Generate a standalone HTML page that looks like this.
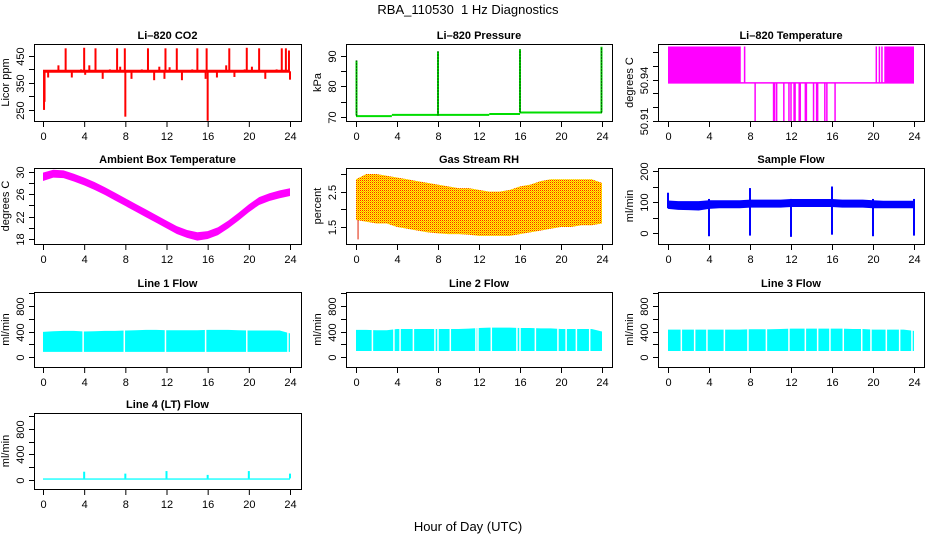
<!DOCTYPE html>
<html><head><meta charset="utf-8"><style>
html,body{margin:0;padding:0;background:#fff;}
svg{display:block;font-family:"Liberation Sans",sans-serif;}
</style></head><body>
<svg id="c" width="936" height="540" viewBox="0 0 936 540">
<defs>
<pattern id="rh" width="2" height="2" patternUnits="userSpaceOnUse">
<rect width="2" height="2" fill="#ffff00"/><rect width="1" height="1" fill="#ff2000"/><rect x="1" y="1" width="1" height="1" fill="#ffa000"/>
</pattern>
</defs>
<text x="468" y="14" text-anchor="middle" font-size="13">RBA_110530&#160; 1 Hz Diagnostics</text>
<text x="468" y="531" text-anchor="middle" font-size="13">Hour of Day (UTC)</text>
</svg>
<script>
const hours=[0,1,2,3,4,5,6,7,8,9,10,11,12,13,14,15,16,17,18,19,20,21,22,23,24];
// CO2
const co2Base=393;
const co2SpikeT=[0.1,0.15,0.5,1.5,2.2,2.8,3.7,4.0,4.1,4.5,5.1,5.8,6.5,7.2,7.5,7.95,8.0,8.6,9.6,10.2,10.8,11.3,11.8,11.9,12.3,13.0,13.5,14.5,15.0,15.8,15.9,16.0,16.9,17.8,18.1,18.6,19.6,19.8,20.3,21.0,21.6,22.7,23.2,23.6,23.9,24.0];
const co2SpikeV=[250,280,370,415,478,370,400,480,380,415,478,365,400,478,410,478,225,365,400,478,360,410,365,478,408,478,360,400,478,365,478,210,370,415,478,372,400,480,410,478,365,400,478,478,470,362];
// Pressure
const presStepT=[0,3.5,13,16,24];
const presStepV=[70.3,70.7,71.0,71.5];
const presSpikeT=[0.05,8.0,16.0,23.95];
const presSpikeV=[88.5,91.5,92.2,93.0];
// Li-820 temperature
const ltTop=50.964, ltBase=50.9376, ltLow=50.91;
const ltFillStart=[0,7.4,20.25,20.55,20.8,21.1];
const ltFillEnd=[7.1,7.55,20.3,20.6,20.85,24];
const ltDropT=[8.5,10.3,10.4,10.6,11.3,11.8,12.0,12.3,12.4,12.8,12.9,13.4,13.5,14.2,14.5,14.6,15.3,15.5,16.3];
// Ambient temperature band
const ambHi=[29.9,30.4,30.3,29.7,29.0,28.2,27.3,26.3,25.3,24.3,23.3,22.3,21.3,20.3,19.6,19.2,19.4,20.1,21.3,22.7,24.2,25.5,26.2,26.7,27.1];
const ambLo=[28.4,29.0,28.9,28.3,27.6,26.8,25.9,24.9,23.9,22.9,21.9,20.9,19.9,18.9,18.2,17.7,18.0,18.7,19.9,21.3,22.8,24.1,24.8,25.3,25.7];
// Gas stream RH band
const rhHi=[2.85,3.0,3.0,2.95,2.9,2.85,2.8,2.75,2.7,2.65,2.6,2.6,2.55,2.5,2.5,2.55,2.65,2.7,2.8,2.85,2.85,2.85,2.85,2.85,2.75];
const rhLo=[1.7,1.65,1.6,1.6,1.5,1.45,1.4,1.35,1.32,1.3,1.3,1.28,1.25,1.25,1.25,1.25,1.3,1.35,1.4,1.45,1.5,1.5,1.55,1.55,1.6];
// Sample flow
const sfHi=[105,103,103,103,106,106,106,106,108,108,108,108,110,110,110,110,110,108,108,108,106,104,104,104,104];
const sfLo=[78,75,74,73,78,80,80,80,82,82,82,82,84,84,84,84,84,82,82,82,80,80,80,80,80];
const sfSpikeT=[0.0,4.0,8.0,12.0,16.0,20.0,24.0];
const sfSpikeHi=[130,110,145,110,150,110,110];
const sfSpikeLo=[80,-10,-8,-12,-5,-10,-8];
// Line flows
const l1Hi=[395,405,410,410,400,405,410,410,415,420,425,425,420,420,420,420,425,425,425,420,415,415,415,415,370];
const l1Lo=[80,80,80,80,80,80,80,80,80,80,80,80,80,80,80,80,80,80,80,80,80,80,80,80,80];
const l1Gaps=[3.9,7.9,11.9,15.8,19.8,23.8];
const l2Hi=[425,425,420,420,440,440,440,440,440,440,440,445,455,460,460,460,455,455,450,450,440,440,440,440,400];
const l2Lo=[95,95,95,95,95,95,95,95,95,95,95,95,95,95,95,95,95,95,95,95,95,95,95,95,95];
const l2Gaps=[1.6,3.7,4.3,5.6,7.7,8.0,9.2,11.7,11.9,13.2,15.7,16.0,17.5,19.7,20.5,21.5,22.8];
const l3Hi=[430,430,430,430,430,430,430,430,435,435,435,440,445,445,445,445,445,445,440,440,430,430,430,430,410];
const l3Lo=[95,95,95,95,95,95,95,95,95,95,95,95,95,95,95,95,95,95,95,95,95,95,95,95,95];
const l3Gaps=[1.3,2.6,3.8,5.5,7.8,9.6,11.8,13.4,14.6,15.8,17.1,18.9,19.8,21.3,22.6,23.8];
const l4Hi=25, l4Lo=5;
const l4SpikeT=[4.0,8.0,12.0,16.0,20.0,24.0];
const l4SpikeV=[130,100,140,80,140,100];

const svg=document.getElementById('c');
const NS='http://www.w3.org/2000/svg';
function mk(tag,attrs,parent){const e=document.createElementNS(NS,tag);for(const k in attrs)e.setAttribute(k,attrs[k]);(parent||svg).appendChild(e);return e;}

const colX=[[34,301,43,290],[346,612,356,602],[658,924,668,914]];
const rowY=[[44,121],[168,244],[292,367],[413,489]];

function panel(name,title,col,row,ylo,yhi,ticks,labels,ytitle){
  const [x0,x1,xa,xb]=colX[col];const [y0,y1]=rowY[row];
  const g=mk('g',{});
  
  
  const X=t=>xa+(xb-xa)*t/24;
  const Y=v=>y1-(v-ylo)/(yhi-ylo)*(y1-y0);
  const data=mk('g',{},g);
  
  
  const frame=mk('rect',{x:x0+0.5,y:y0+0.5,width:x1-x0,height:y1-y0,fill:'none',stroke:'#000','stroke-width':1},g);
  
  
  const tt=mk('text',{x:(x0+x1)/2,y:y0-5,'text-anchor':'middle','font-size':11,'font-weight':'bold'},g);
  tt.textContent=title;
  
  
  const xa_=mk('g',{},g);
  
  
  for(let t=0;t<=24;t+=4){
    mk('line',{x1:X(t)+0.5,x2:X(t)+0.5,y1:y1+1,y2:y1+6,stroke:'#000'},xa_);
    const l=mk('text',{x:X(t)+0.5,y:y1+19,'text-anchor':'middle','font-size':11},xa_);l.textContent=t;
  }
  const ya=mk('g',{},g);
  
  
  ticks.forEach((v,i)=>{
    const y=Math.round(Y(v))+0.5;
    mk('line',{x1:x0-5,x2:x0,y1:y,y2:y,stroke:'#000'},ya);
    if(labels[i]){const l=mk('text',{x:x0-10,y:y,'text-anchor':'middle','font-size':11,transform:`rotate(-90 ${x0-10} ${y})`},ya);l.textContent=labels[i];}
  });
  const yt=mk('text',{x:x0-25,y:(y0+y1)/2,'text-anchor':'middle','font-size':11,transform:`rotate(-90 ${x0-25} ${(y0+y1)/2})`},g);
  yt.textContent=ytitle;
  
  
  return {X,Y,data};
}
function band(p,hi,lo,fill){
  let d='';hours.forEach((h,i)=>{d+=(i?'L':'M')+p.X(h)+' '+p.Y(hi[i]);});
  for(let i=hours.length-1;i>=0;i--)d+='L'+p.X(hours[i])+' '+p.Y(lo[i]);
  const e=mk('path',{d:d+'Z',fill:fill,stroke:'none'},p.data);
  
  
}
function vline(p,t,v1,v2,col,w,extra){
  const e=mk('line',Object.assign({x1:p.X(t),x2:p.X(t),y1:p.Y(v1),y2:p.Y(v2),stroke:col,'stroke-width':w||1.5},extra||{}),p.data);
  
  
}

let p=panel('co2-panel','Li\u2013820 CO2',0,0,209,494,[250,300,350,400,450],['250','','350','','450'],'Licor ppm');
let e=mk('line',{x1:p.X(0),x2:p.X(24),y1:p.Y(co2Base),y2:p.Y(co2Base),stroke:'#f00','stroke-width':3},p.data);


co2SpikeT.forEach((t,i)=>vline(p,t,co2Base,co2SpikeV[i],'#f00',2));

p=panel('pressure-panel','Li\u2013820 Pressure',1,0,68.7,93.9,[70,75,80,85,90],['70','','80','','90'],'kPa');
presStepV.forEach((v,i)=>{
  e=mk('line',{x1:p.X(presStepT[i]),x2:p.X(presStepT[i+1]),y1:p.Y(v),y2:p.Y(v),stroke:'#0d0','stroke-width':2},p.data);
  
  
});
presSpikeT.forEach((t,i)=>{const base=t<16?70.5:71.5;vline(p,t,base,presSpikeV[i],'#0c0',2);vline(p,t,base,presSpikeV[i],'#000',1,{'stroke-dasharray':'1 2'});});

p=panel('li820-temperature-panel','Li\u2013820 Temperature',2,0,50.91,50.9658,[50.91,50.92,50.93,50.94,50.95,50.96],['50.91','','','50.94','',''],'degrees C');
ltFillStart.forEach((s,i)=>{
  e=mk('rect',{x:p.X(s),y:p.Y(ltTop),width:Math.max(1.5,p.X(ltFillEnd[i])-p.X(s)),height:p.Y(ltBase)-p.Y(ltTop),fill:'#f0f'},p.data);
  
  
});
e=mk('line',{x1:p.X(0),x2:p.X(24),y1:p.Y(ltBase),y2:p.Y(ltBase),stroke:'#f0f','stroke-width':1.5},p.data);


ltDropT.forEach(t=>vline(p,t,ltBase,ltLow,'#f0f',1.5));

p=panel('ambient-temperature-panel','Ambient Box Temperature',0,1,17.1,30.72,[18,20,22,24,26,28,30],['18','','22','','26','','30'],'degrees C');
band(p,ambHi,ambLo,'#f0f');

p=panel('gas-stream-rh-panel','Gas Stream RH',1,1,1.02,3.17,[1.5,2.0,2.5,3.0],['1.5','','2.5',''],'percent');
band(p,rhHi,rhLo,'url(#rh)');
vline(p,0.2,1.7,1.15,'#e02000',1);

p=panel('sample-flow-panel','Sample Flow',2,1,-35,209.6,[0,50,100,150,200],['0','','100','','200'],'ml/min');
band(p,sfHi,sfLo,'#00f');
sfSpikeT.forEach((t,i)=>vline(p,t,sfSpikeLo[i],sfSpikeHi[i],'#00f',2));

const lfTicks=[0,200,400,600,800,1000], lfLabels=['0','','400','','800',''];
function lineFlow(name,title,col,row,hi,lo,gaps,ylo,yhi){
  const q=panel(name,title,col,row,ylo,yhi,lfTicks,lfLabels,'ml/min');
  band(q,hi,lo,'#0ff');
  gaps.forEach(t=>vline(q,t,lo[0]-20,hi[Math.round(t)]+20,'#fff',1.5));
}
lineFlow('line1-flow-panel','Line 1 Flow',0,2,l1Hi,l1Lo,l1Gaps,-157,1020);
lineFlow('line2-flow-panel','Line 2 Flow',1,2,l2Hi,l2Lo,l2Gaps,-157,1020);
lineFlow('line3-flow-panel','Line 3 Flow',2,2,l3Hi,l3Lo,l3Gaps,-157,1020);

p=panel('line4-flow-panel','Line 4 (LT) Flow',0,3,-141,1050,lfTicks,lfLabels,'ml/min');
e=mk('rect',{x:p.X(0),y:p.Y(l4Hi),width:p.X(24)-p.X(0),height:p.Y(l4Lo)-p.Y(l4Hi),fill:'#0ff'},p.data);


l4SpikeT.forEach((t,i)=>vline(p,t,l4Hi,l4SpikeV[i],'#0ff',2));
</script>
</body></html>
